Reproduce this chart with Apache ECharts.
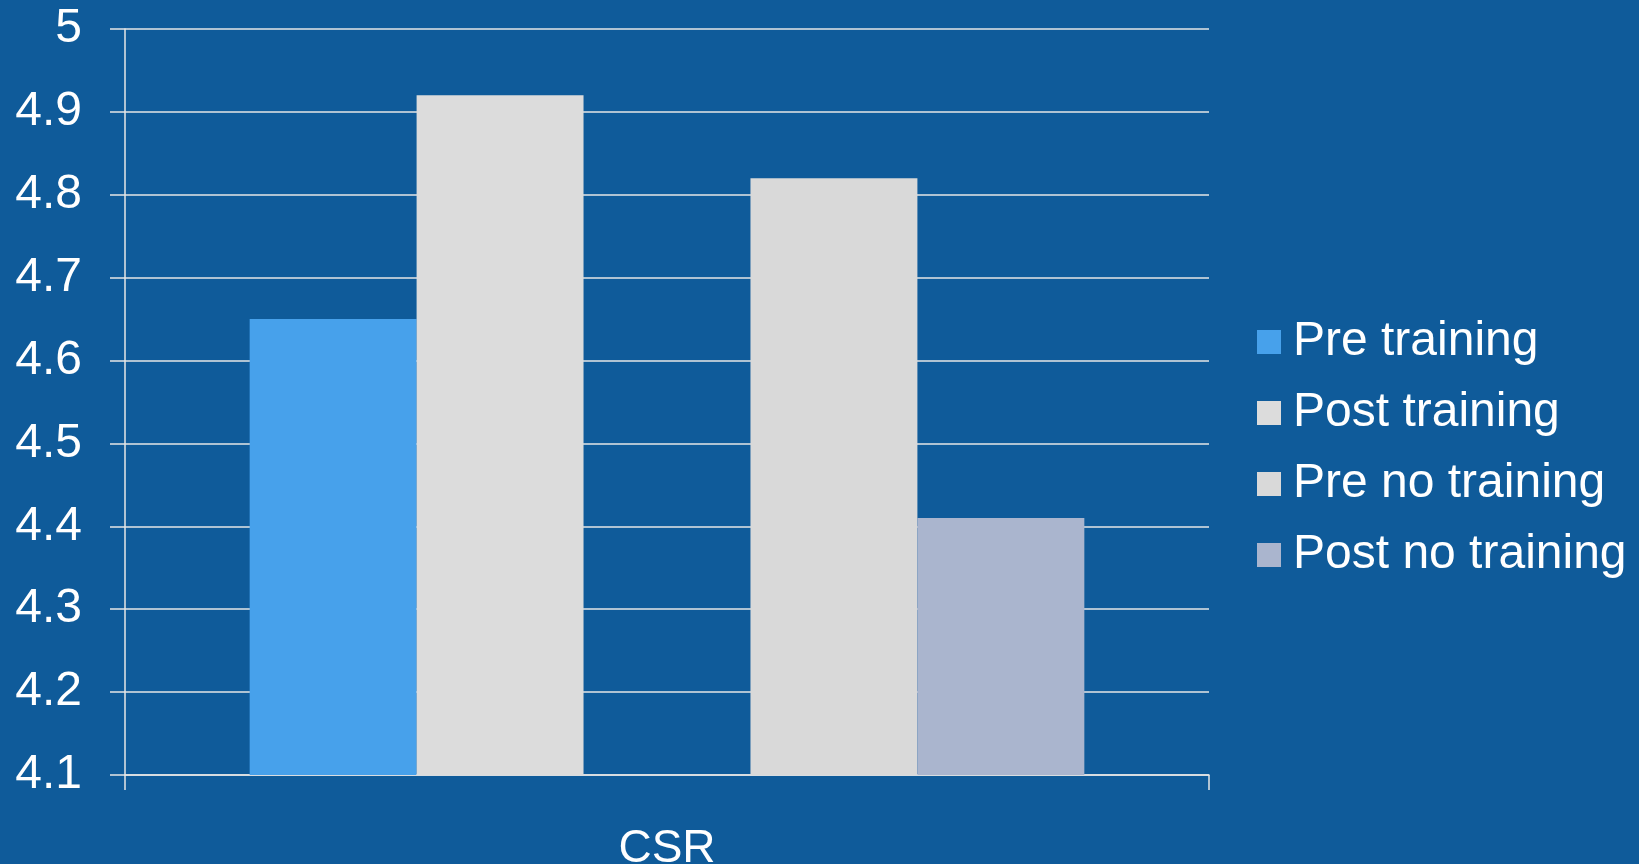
<!DOCTYPE html>
<html>
<head>
<meta charset="utf-8">
<script src="https://cdn.jsdelivr.net/npm/echarts@6/dist/echarts.min.js"></script>
<style>
html,body{margin:0;padding:0;background:#0F5B9A;overflow:hidden;}
#chart{width:1639px;height:864px;}
</style>
</head>
<body>
<div id="chart"></div>
<script>
const categories = ['CSR'];
const seriesNames = ['Pre training', 'Post training', 'Pre no training', 'Post no training'];
const preTraining = [4.65];
const postTraining = [4.92];
const preNoTraining = [4.82];
const postNoTraining = [4.41];
const spacer = ['-'];
const yMin = 4.1, yMax = 5, yInterval = 0.1;
const colors = ['#47A1EB', '#DCDCDC', '#D9D9D9', '#AAB5CE'];

const font = 'Liberation Sans, Arial, sans-serif';
const chart = echarts.init(document.getElementById('chart'));

function barSeries(name, data, color) {
  return {
    name: name, type: 'bar', data: data,
    barGap: 0, barCategoryGap: '23%',
    itemStyle: { color: color },
    emphasis: { disabled: true },
    animation: false
  };
}

chart.setOption({
  backgroundColor: '#0F5B9A',
  animation: false,
  grid: { left: 125, right: 430, top: 29, bottom: 89, containLabel: false, outerBoundsMode: 'none' },
  legend: {
    data: seriesNames,
    orient: 'vertical',
    left: 1252, top: 313,
    itemWidth: 24, itemHeight: 24, itemGap: 23,
    icon: 'rect',
    textStyle: { color: '#FFFFFF', fontSize: 48, fontFamily: font, lineHeight: 46, padding: [0, 0, 0, 7] },
    selectedMode: false
  },
  xAxis: {
    type: 'category',
    data: categories,
    axisLine: { show: true, lineStyle: { color: '#E6E6E6', width: 1.5 } },
    axisTick: { show: true, length: 15, lineStyle: { color: '#E6E6E6', width: 1.5 } },
    axisLabel: { color: '#FFFFFF', fontSize: 46, fontFamily: font, margin: 51 }
  },
  yAxis: {
    type: 'value',
    min: yMin, max: yMax, interval: yInterval,
    axisLine: { show: true, lineStyle: { color: '#E6E6E6', width: 1.5 } },
    axisTick: { show: true, length: 15, lineStyle: { color: '#E6E6E6', width: 1.5 } },
    splitLine: { show: true, lineStyle: { color: '#E6E6E6', width: 1.5 } },
    axisLabel: {
      color: '#FFFFFF', fontSize: 48, fontFamily: font, margin: 43,
      formatter: v => String(+v.toFixed(1))
    }
  },
  series: [
    barSeries(seriesNames[0], preTraining, colors[0]),
    barSeries(seriesNames[1], postTraining, colors[1]),
    barSeries('spacer', spacer, 'transparent'),
    barSeries(seriesNames[2], preNoTraining, colors[2]),
    barSeries(seriesNames[3], postNoTraining, colors[3])
  ]
});
</script>
</body>
</html>
